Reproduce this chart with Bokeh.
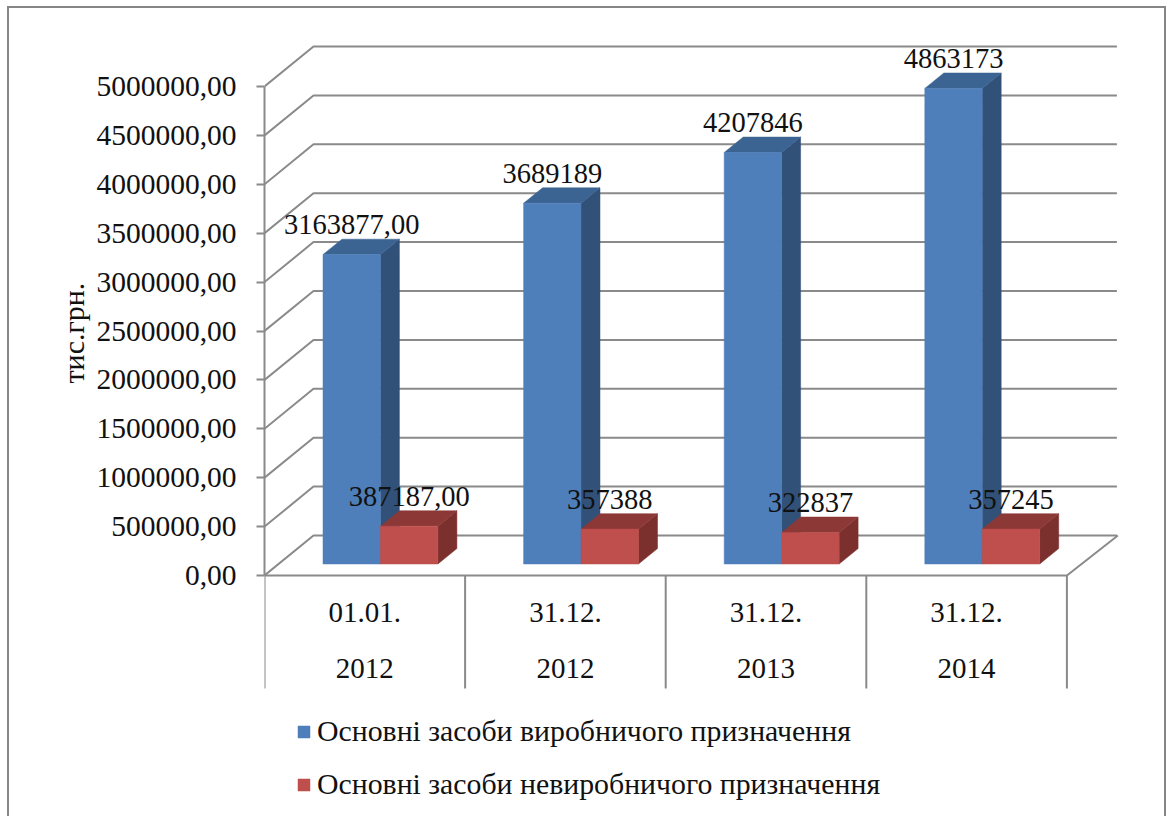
from bokeh.plotting import figure
from bokeh.embed import file_html
from bokeh.resources import INLINE
from bokeh.core.properties import value
from bokeh.models import Range1d, FixedTicker, Legend, LegendItem, Title

# ---- data ----
dates_top = ["01.01.", "31.12.", "31.12.", "31.12."]
dates_bottom = ["2012", "2012", "2013", "2014"]
productive = [3163877, 3689189, 4207846, 4863173]
nonproductive = [387187, 357388, 322837, 357245]
productive_labels = ["3163877,00", "3689189", "4207846", "4863173"]
nonproductive_labels = ["387187,00", "357388", "322837", "357245"]
y_ticks = [0, 500000, 1000000, 1500000, 2000000, 2500000, 3000000, 3500000, 4000000, 4500000, 5000000]
y_tick_labels = ["0,00", "500000,00", "1000000,00", "1500000,00", "2000000,00", "2500000,00",
                 "3000000,00", "3500000,00", "4000000,00", "4500000,00", "5000000,00"]
y_title = "тис.грн."
series_names = ["Основні засоби виробничого призначення", "Основні засоби невиробничого призначення"]

# ---- scale geometry ----
W, H = 1172, 816
LEFT = 264                 # frame left inside the figure
PX_PER_CAT = 200.6
PX_PER_VAL = 97.8 / 1e6
Y0_SCREEN = 575            # where value 0 lies, from the figure's top

dx = lambda px: px / PX_PER_CAT
dy = lambda px: px / PX_PER_VAL

FONT = value("Liberation Serif")
GRID = "#8a8a8a"
BORDER = "#868686"
TEXT = "#111111"
BLUE = ("#4E7FBB", "#3C6493", "#325179")
RED = ("#BF4F4C", "#8C3836", "#7B302E")

edge = f"linear-gradient({BORDER},{BORDER})"
p = figure(width=W, height=H, output_backend="svg", toolbar_location=None,
           x_range=Range1d(0, dx(W - LEFT)),
           y_range=Range1d(dy(Y0_SCREEN - H), dy(Y0_SCREEN)),
           x_axis_location=None, min_border_left=LEFT, min_border_right=0,
           min_border_top=0, min_border_bottom=0, outline_line_color=None,
           background_fill_color=None, border_fill_color=None)
p.grid.visible = False
# outer chart border: three sides, the fourth lies beyond the page
p.styles = {
    "background": (f"{edge} 7px 6px / 2px 100% no-repeat, "
                   f"{edge} 1164px 6px / 2px 100% no-repeat, "
                   f"{edge} 7px 6px / 1159px 2px no-repeat, white"),
}

# walls: gridlines run from the axis back into the depth and along the back wall
WALL_X, WALL_Y = dx(49), dy(40)
n = len(dates_top)
grid_xs = [[0, WALL_X, n + dx(50)] for _ in y_ticks]
grid_ys = [[t, t + WALL_Y, t + WALL_Y] for t in y_ticks]
p.multi_line(grid_xs, grid_ys, line_color=GRID, line_width=2)
# floor
p.multi_line([[0, n, n + dx(51)]], [[0, 0, WALL_Y]], line_color=GRID, line_width=2)
# category separators below the floor
sep_x = list(range(n + 1))
p.segment(sep_x, [0] * (n + 1), sep_x, [dy(-113)] * (n + 1), line_color=GRID, line_width=2)


def bar3d(vals, x_off, colors):
    bw = dx(57.4)
    bx, by = dx(19), dy(15.4)
    base = dy(11.5)
    lefts = [i + x_off for i in range(n)]
    rights = [l + bw for l in lefts]
    tops = [v + base for v in vals]
    side_xs = [[r, r + bx, r + bx, r] for r in rights]
    side_ys = [[base, base + by, t + by, t] for t in tops]
    top_xs = [[l, l + bx, r + bx, r] for l, r in zip(lefts, rights)]
    top_ys = [[t, t + by, t + by, t] for t in tops]
    p.patches(side_xs, side_ys, fill_color=colors[2], line_color=colors[2], line_width=0.5)
    p.patches(top_xs, top_ys, fill_color=colors[1], line_color=colors[1], line_width=0.5)
    r = p.quad(left=lefts, right=rights, bottom=[base] * n, top=tops,
               fill_color=colors[0], line_color=colors[0], line_width=0.5)
    return r, [(a + b) / 2 for a, b in zip(lefts, rights)], tops


r1, cx1, top1 = bar3d(productive, dx(58.5), BLUE)
r2, cx2, top2 = bar3d(nonproductive, dx(116), RED)

label_gap = dy(30)
p.text(cx1, [t + label_gap for t in top1], text=productive_labels, text_font=FONT, text_font_size="28.5px",
       text_align="center", text_baseline="alphabetic", text_color=TEXT)
p.text(cx2, [t + label_gap for t in top2], text=nonproductive_labels, text_font=FONT, text_font_size="28.5px",
       text_align="center", text_baseline="alphabetic", text_color=TEXT)

# category labels
cat_x = [i + 0.5 for i in range(n)]
p.text(cat_x, [dy(-37)] * n, text=dates_top, text_font=FONT, text_font_size="29px",
       text_align="center", text_baseline="alphabetic", text_color=TEXT)
p.text(cat_x, [dy(-93)] * n, text=dates_bottom, text_font=FONT, text_font_size="29px",
       text_align="center", text_baseline="alphabetic", text_color=TEXT)

# value axis
ax = p.yaxis[0]
ax.bounds = (0, 5000000)
ax.ticker = FixedTicker(ticks=y_ticks)
ax.major_label_overrides = dict(zip(y_ticks, y_tick_labels))
ax.major_label_text_font = "Liberation Serif"
ax.major_label_text_font_size = "29.5px"
ax.major_label_text_color = TEXT
ax.major_label_standoff = 20
ax.major_tick_out = 8
ax.major_tick_in = 0
ax.minor_tick_line_color = None
ax.axis_line_color = GRID
ax.axis_line_width = 2
ax.major_tick_line_color = GRID
ax.major_tick_line_width = 2

# axis title sits beside the axis, measured up from the frame's bottom
p.add_layout(Title(text=y_title, align="left", offset=433, standoff=8,
                   text_font="Liberation Serif", text_font_size="30px", text_font_style="normal",
                   text_color=TEXT), "left")

legend = Legend(items=[LegendItem(label=series_names[0], renderers=[r1]),
                       LegendItem(label=series_names[1], renderers=[r2])],
                location=(32, 15), orientation="vertical",
                border_line_color=None, background_fill_alpha=0, margin=0, padding=0,
                glyph_width=15, glyph_height=15, label_standoff=6, spacing=19,
                label_text_font="Liberation Serif", label_text_font_size="29.8px",
                label_text_color=TEXT)
p.add_layout(legend)

open("out.html", "w").write(file_html(p, INLINE))
